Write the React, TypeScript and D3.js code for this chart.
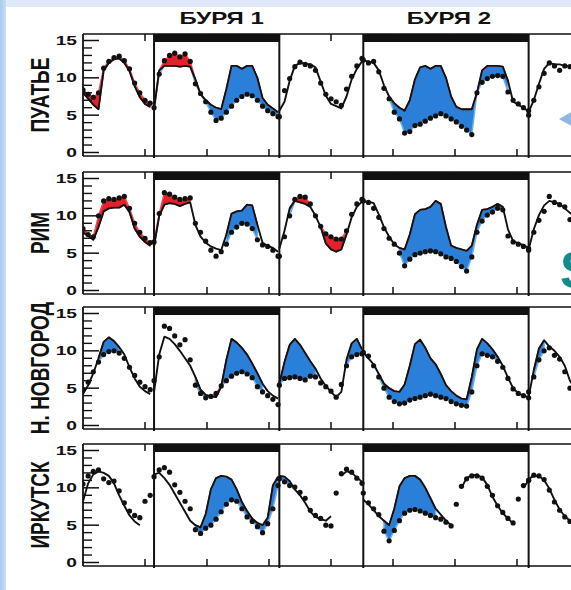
import React from "react";
import * as d3 from "d3";

const W = 571;
const H = 590;

const STATIONS = ["ПУАТЬЕ", "РИМ", "Н. НОВГОРОД", "ИРКУТСК"];
const STORM_LABELS = ["БУРЯ 1", "БУРЯ 2"];
// time windows (hours) that are stitched together on the x axis
const SEG_START = [0, 27.5, 76, 108.5, 172.5];
const SEG_BREAKS = [27.5, 76, 108.5, 172.5];
const STEP_H = 2;
const STORMS = [[27.5, 76], [108.5, 172.5]];
const Y_MAJOR = [0, 5, 10, 15];
const Y_MINOR = [1, 2, 3, 4, 6, 7, 8, 9, 11, 12, 13, 14];
const X_TICKS = [24, 48, 72, 96, 120, 144, 168];

type V = number | null;

// ---- ПУАТЬЕ ----
const poitiersModel: V[][] = [
  [8.0, 7.2, 6.4, 5.8, 11.0, 12.0, 12.5, 12.6, 12.0, 10.9, 8.9, 7.4, 6.5, 6.1],
  [5.8, 11.0, 11.6, 11.6, 11.6, 11.5, 11.6, 11.5, 9.8, 7.8, 7.0, 6.4, 6.0, 5.8, 8.5, 11.6, 11.6, 11.2, 11.6, 11.6, 10.0, 7.3, 6.4, 5.9, 5.4],
  [5.6, 6.8, 9.6, 11.6, 12.0, 11.9, 11.8, 11.4, 9.5, 7.6, 6.5, 6.2, 5.9, 7.5, 9.8, 11.2, 12.2],
  [12.3, 12.2, 12.0, 11.0, 9.0, 7.5, 6.6, 6.0, 5.6, 7.0, 9.8, 11.4, 11.6, 11.2, 11.6, 11.6, 10.0, 7.5, 6.1, 5.8, 5.8, 5.8, 8.0, 11.0, 11.6, 11.6, 11.6, 11.5, 9.6, 6.8, 6.4, 6.0, 5.5],
  [5.4, 7.0, 9.2, 11.2, 12.0, 11.8, 11.8, 11.6, 11.6, 11.5],
];
const poitiersObs: V[][] = [
  [8.4, 7.8, 7.4, 8.0, 11.3, 12.2, 12.7, 12.9, 12.3, 11.2, 9.3, 8.0, 7.0, 6.6],
  [6.0, 10.5, 12.3, 13.0, 13.3, 12.8, 13.2, 12.2, 9.2, 7.9, 6.8, 5.4, 4.3, 4.6, 5.4, 6.2, 7.0, 7.5, 7.8, 7.6, 7.0, 6.2, 5.6, 5.2, 4.8],
  [4.8, 8.3, 9.9, 11.5, 12.1, 11.8, 11.6, 11.0, 9.3, 7.8, 7.2, 6.8, 6.3, 8.5, 10.2, 11.6, 12.6],
  [12.4, 12.0, 12.2, 10.8, 8.6, 7.2, 5.4, 4.5, 2.6, 2.8, 3.6, 3.8, 4.2, 4.6, 4.9, 5.2, 4.9, 4.5, 4.1, 3.5, 3.0, 2.4, 8.0, 9.4, 9.9, 10.2, 10.3, 10.2, 8.1, 7.0, 6.5, 6.0, 5.0],
  [5.6, 7.0, 8.8, 10.6, 12.0, 11.6, 11.0, 11.6, 11.5, 11.4],
];
const poitiersShade = [[0, 76], [118, 165]];

// ---- РИМ ----
const romeModel: V[][] = [
  [7.8, 7.3, 6.8, 8.5, 10.6, 11.0, 11.1, 11.1, 11.5, 10.5, 8.3, 7.2, 6.5, 6.0],
  [5.9, 10.0, 11.5, 11.7, 11.6, 11.3, 11.6, 11.8, 8.8, 7.2, 6.4, 5.9, 5.6, 5.4, 7.5, 10.3, 10.6, 10.7, 11.5, 11.4, 8.8, 6.4, 6.0, 5.7, 5.2],
  [5.6, 8.0, 11.0, 12.0, 11.8, 11.6, 11.2, 10.0, 8.5, 6.3, 5.5, 5.2, 5.5, 7.5, 9.8, 11.2, 11.9],
  [11.9, 11.9, 11.7, 10.2, 8.5, 7.2, 6.2, 5.7, 5.5, 7.5, 10.2, 10.8, 10.9, 11.2, 12.0, 11.6, 8.5, 6.0, 5.7, 5.5, 5.3, 6.0, 8.8, 10.8, 10.9, 11.2, 11.6, 11.2, 8.2, 6.6, 6.3, 6.1, 5.7],
  [5.5, 8.2, 10.1, 11.4, 12.0, 11.8, 11.6, 11.0, 10.4, 10.0],
];
const romeObs: V[][] = [
  [8.3, 7.5, 7.2, 10.0, 12.0, 12.3, 12.2, 12.4, 12.6, 11.0, 9.0, 7.8, 7.0, 6.4],
  [6.5, 10.3, 13.1, 12.9, 12.5, 12.2, 12.3, 12.4, 9.0, 7.8, 6.6, 5.4, 4.6, 5.2, 6.2, 7.8, 8.5, 9.0, 8.9, 8.3, 6.8, 6.1, 5.9, 5.4, 4.6],
  [4.6, 7.2, 10.0, 12.2, 12.6, 12.5, 11.6, 10.0, 8.6, 7.6, 7.2, 6.9, 6.9, 8.0, 10.2, 11.6, 12.2],
  [12.0, 11.8, 11.0, 9.8, 8.3, 7.0, 6.2, 5.0, 3.3, 4.2, 4.8, 5.0, 5.2, 5.3, 5.2, 4.9, 4.5, 4.3, 3.9, 3.2, 2.6, 4.5, 7.8, 9.3, 10.1, 10.5, 11.0, 10.8, 7.3, 6.5, 6.2, 5.9, 5.4],
  [5.6, 7.8, 9.4, 10.6, 12.6, 11.8, 11.5, 11.2, 9.5, 9.0],
];
const romeShade = [[0, 42], [54, 69], [80, 89], [92, 102], [122, 163]];

// ---- Н. НОВГОРОД ----
const novgorodModel: V[][] = [
  [4.2, 5.4, 7.0, 9.0, 11.2, 11.8, 11.3, 10.5, 9.5, 7.8, 6.3, 5.2, 4.6, 4.2],
  [4.5, 9.5, 11.9, 11.6, 10.9, 10.0, 9.0, 8.0, 6.5, 4.8, 4.1, 3.9, 3.8, 5.2, 8.8, 11.6, 11.1, 10.4, 9.5, 8.3, 7.0, 5.6, 4.6, 4.0, 3.6],
  [5.6, 8.5, 10.8, 11.6, 10.8, 9.7, 8.6, 7.6, 6.3, 5.3, 4.5, 3.8, 4.5, 8.8, 11.0, 11.6, 10.2],
  [9.8, 9.0, 8.2, 6.9, 5.6, 5.0, 4.6, 4.5, 5.5, 8.0, 10.9, 11.5, 10.4, 9.0, 8.2, 6.9, 5.4, 4.6, 4.0, 3.6, 3.5, 6.5, 10.2, 11.6, 11.0, 10.2, 9.2, 8.0, 6.4, 5.0, 4.3, 4.0, 3.8],
  [3.8, 7.4, 10.3, 11.4, 10.6, 10.0, 9.2, 8.0, 6.0, 5.0],
];
const novgorodObs: V[][] = [
  [4.8, 5.8, 7.2, 8.5, 9.5, 9.9, 10.0, 9.7, 9.0, 7.8, 6.7, 5.8, 5.2, 4.8],
  [6.0, 9.2, 13.3, 13.0, 12.0, 10.8, 11.5, 8.8, 5.4, 4.3, 3.7, 3.9, 4.3, 5.3, 6.0, 6.6, 7.0, 7.2, 6.9, 6.4, 5.2, 4.5, 4.0, 3.5, 2.8],
  [5.4, 6.3, 6.4, 6.5, 6.3, 6.1, 6.6, 6.5, 5.7, 5.2, 4.6, 3.8, 5.5, 8.0, 9.2, 9.5, 9.6],
  [9.8, 9.3, 8.0, 6.5, 5.0, 3.8, 3.2, 2.9, 3.0, 3.4, 3.6, 3.8, 4.0, 4.2, 4.0, 3.8, 3.6, 3.2, 2.9, 2.7, 2.6, 4.5, 8.0, 9.6, 9.4, 9.2, 8.6, 7.8, 6.3, 4.9, 4.3, 4.0, 3.7],
  [4.5, 6.5, 8.8, 10.0, 10.4, 9.4, 8.9, 7.2, 5.0, 4.5],
];
const novgorodShade = [[6, 15], [43, 70], [76, 91], [102, 109], [114, 162], [174, 180]];

// ---- ИРКУТСК ----
const irkutskModel: V[][] = [
  [8.2, 10.6, 11.8, 12.2, 12.0, 11.6, 10.6, 9.0, 7.6, 6.3, 5.5, 5.0, null, null],
  [11.8, 12.0, 11.3, 10.4, 9.2, 8.0, 6.8, 5.6, 5.0, 4.7, 6.5, 9.8, 11.3, 11.6, 11.5, 11.1, 9.8, 8.1, 6.9, 5.9, 5.3, 5.0, 6.0, 10.3, 11.5],
  [11.6, 11.5, 10.9, 9.8, 9.0, 8.0, 6.8, 6.1, 5.8, 5.6, 6.2, null, 11.6, 12.2, 12.0, 11.4, 10.8],
  [8.4, 7.8, 7.0, 6.2, 5.6, 5.0, 7.2, 10.2, 11.3, 11.6, 11.6, 11.1, 10.0, 8.6, 7.2, 6.4, 5.6, 5.0, null, 10.0, 11.3, 11.7, 11.7, 11.4, 10.4, 8.8, 7.6, 6.6, 5.9, 5.2, null, 10.0, 11.0],
  [11.2, 11.6, 11.6, 11.0, 9.9, 8.4, 7.1, 6.2, 5.6, 5.3],
];
const irkutskObs: V[][] = [
  [10.5, 11.6, 12.2, 12.4, 11.2, 10.7, 10.9, 9.6, 8.0, 6.9, 6.3, 6.0, 8.2, 9.0],
  [11.5, 12.4, 12.7, 12.1, 10.4, 9.4, 8.2, 7.2, 4.4, 3.9, 4.6, 5.0, 5.8, 6.8, 7.8, 8.4, 8.2, 7.2, 6.1, 5.5, 4.8, 4.0, 5.2, 7.2, 10.3],
  [11.2, 10.8, 10.3, 10.1, 9.4, 8.6, 7.0, 6.3, 5.9, 5.0, 4.9, 9.3, 11.9, 12.5, 12.1, 11.3, 10.6],
  [9.3, 8.0, 7.2, 6.4, 4.2, 2.9, 4.3, 5.6, 6.6, 7.0, 7.1, 6.9, 6.6, 6.3, 6.0, 5.8, 5.4, 4.9, 7.8, 10.2, 11.2, 11.6, 11.6, 11.3, 10.2, 9.0, 7.6, 6.7, 5.9, 5.3, 8.5, 10.3, 11.0],
  [11.0, 11.7, 11.6, 11.1, 9.7, 8.1, 7.0, 6.1, 5.5, 5.1],
];
const irkutskShade = [[42, 76], [76, 81], [116, 138]];

const MODELS = [poitiersModel, romeModel, novgorodModel, irkutskModel];
const OBS = [poitiersObs, romeObs, novgorodObs, irkutskObs];
const SHADES = [poitiersShade, romeShade, novgorodShade, irkutskShade];

// layout
const PANEL_TOPS = [34, 172, 307, 444];
const PANEL_H = 122;
const X0 = 83;
const PX_PER_DAY = 62;

type Pt = { t: number; m: V; o: V };

const BLUE = "#2a80d8";
const RED = "#e3212b";

export default function App() {
  const x = d3.scaleLinear().domain([0, 192]).range([X0, X0 + (192 * PX_PER_DAY) / 24]);

  const panels = STATIONS.map((name, p) => {
    const top = PANEL_TOPS[p];
    const bottom = top + PANEL_H;
    const y = d3.scaleLinear().domain([0, 15]).range([top + 118.5, top + 6.5]);
    const segs: Pt[][] = MODELS[p].map((seg, k) =>
      seg.map((m, i) => ({ t: SEG_START[k] + i * STEP_H, m, o: OBS[p][k][i] }))
    );
    const inShade = (t: number) => SHADES[p].some(([a, b]) => t >= a && t <= b);
    const ok = (d: Pt) => d.m != null && d.o != null && inShade(d.t);
    const redArea = d3
      .area<Pt>()
      .defined(ok)
      .x((d) => x(d.t))
      .y0((d) => y(d.m as number))
      .y1((d) => y(Math.max(d.m as number, d.o as number)));
    const blueArea = d3
      .area<Pt>()
      .defined(ok)
      .x((d) => x(d.t))
      .y0((d) => y(d.m as number))
      .y1((d) => y(Math.min(d.m as number, d.o as number)));
    const line = d3
      .line<Pt>()
      .defined((d) => d.m != null)
      .x((d) => x(d.t))
      .y((d) => y(d.m as number));
    const clipId = `clip${p}`;
    const cy = (top + bottom) / 2;
    return (
      <g key={name}>
        <defs>
          <clipPath id={clipId}>
            <rect x={X0} y={top} width={W - X0 + 20} height={PANEL_H} />
          </clipPath>
        </defs>
        <g clipPath={`url(#${clipId})`}>
          {segs.map((s, k) => (
            <g key={"f" + k}>
              <path d={blueArea(s) || ""} fill={BLUE} stroke="#6fb0ec" strokeWidth={1.5} strokeLinejoin="round" />
              <path d={redArea(s) || ""} fill={RED} stroke="#ea4d55" strokeWidth={1.5} strokeLinejoin="round" />
            </g>
          ))}
          {segs.map((s, k) => (
            <path key={"l" + k} d={line(s) || ""} fill="none" stroke="#111" strokeWidth={1.9} strokeLinejoin="round" />
          ))}
          {segs.map((s, k) =>
            s
              .filter((d) => d.o != null)
              .map((d, i) => <circle key={`d${k}-${i}`} cx={x(d.t)} cy={y(d.o as number)} r={2.6} fill="#111" />)
          )}
          {STORMS.map(([a, b], i) => (
            <rect key={"bar" + i} x={x(a)} y={top} width={x(b) - x(a)} height={8} fill="#111" />
          ))}
          {X_TICKS.map((t) => (
            <g key={"xt" + t}>
              <line x1={x(t)} x2={x(t)} y1={bottom} y2={bottom - 7} stroke="#111" strokeWidth={1.5} />
              <line x1={x(t)} x2={x(t)} y1={top} y2={top + 7} stroke="#111" strokeWidth={1.5} />
            </g>
          ))}
        </g>
        {/* frame */}
        <line x1={X0} x2={W + 5} y1={top} y2={top} stroke="#111" strokeWidth={1.6} />
        <line x1={X0} x2={W + 5} y1={bottom} y2={bottom} stroke="#111" strokeWidth={1.6} />
        <line x1={X0} x2={X0} y1={top} y2={bottom} stroke="#111" strokeWidth={1.8} />
        {SEG_BREAKS.map((t) => (
          <line key={"sb" + t} x1={x(t)} x2={x(t)} y1={top} y2={bottom + 2} stroke="#111" strokeWidth={2} />
        ))}
        {/* y ticks */}
        {Y_MINOR.map((v) => (
          <line key={"ym" + v} x1={X0} x2={X0 + 9} y1={y(v)} y2={y(v)} stroke="#111" strokeWidth={1.4} />
        ))}
        {Y_MAJOR.map((v) => (
          <g key={"yM" + v}>
            <line x1={X0} x2={X0 + 16} y1={y(v)} y2={y(v)} stroke="#111" strokeWidth={1.5} />
            <text
              transform={`translate(${X0 - 6},${y(v) + 4.4}) scale(1.6,1)`}
              textAnchor="end"
              fontFamily="Liberation Sans, Arial, sans-serif"
              fontWeight="bold"
              fontSize={12}
              fill="#111"
            >
              {v}
            </text>
          </g>
        ))}
        <text
          transform={`translate(39,${cy}) rotate(-90) scale(1,1.4)`}
          textAnchor="middle"
          dy="0.36em"
          fontFamily="Liberation Sans, Arial, sans-serif"
          fontWeight="bold"
          fontSize={19}
          fill="#111"
        >
          {name}
        </text>
      </g>
    );
  });

  return (
    <svg width={W} height={H} style={{ position: "absolute", left: 0, top: 0 }}>
      <defs>
        <linearGradient id="leftStrip" x1="0" x2="1" y1="0" y2="0">
          <stop offset="0" stopColor="#a9c9f1" />
          <stop offset="1" stopColor="#c9dcf6" />
        </linearGradient>
      </defs>
      <rect x={0} y={0} width={W} height={H} fill="#dde8f8" />
      <rect x={0} y={0} width={6} height={H} fill="url(#leftStrip)" />
      <rect x={6} y={7} width={W - 6} height={H - 7} fill="#ffffff" />
      {STORM_LABELS.map((s, i) => (
        <text
          key={s}
          transform={`translate(${(x(STORMS[i][0]) + x(STORMS[i][1])) / 2 + (i === 0 ? 5 : 3)},24) scale(1.5,1)`}
          textAnchor="middle"
          fontFamily="Liberation Sans, Arial, sans-serif"
          fontWeight="bold"
          fontSize={16}
          fill="#111"
        >
          {s}
        </text>
      ))}
      {panels}
      <polygon points="559,119 573,111 573,127" fill="#8db8e6" />
      <text x={560} y={288} fontFamily="Liberation Sans, Arial, sans-serif" fontWeight="bold" fontSize={52} fill="#138a8c">
        S
      </text>
    </svg>
  );
}
